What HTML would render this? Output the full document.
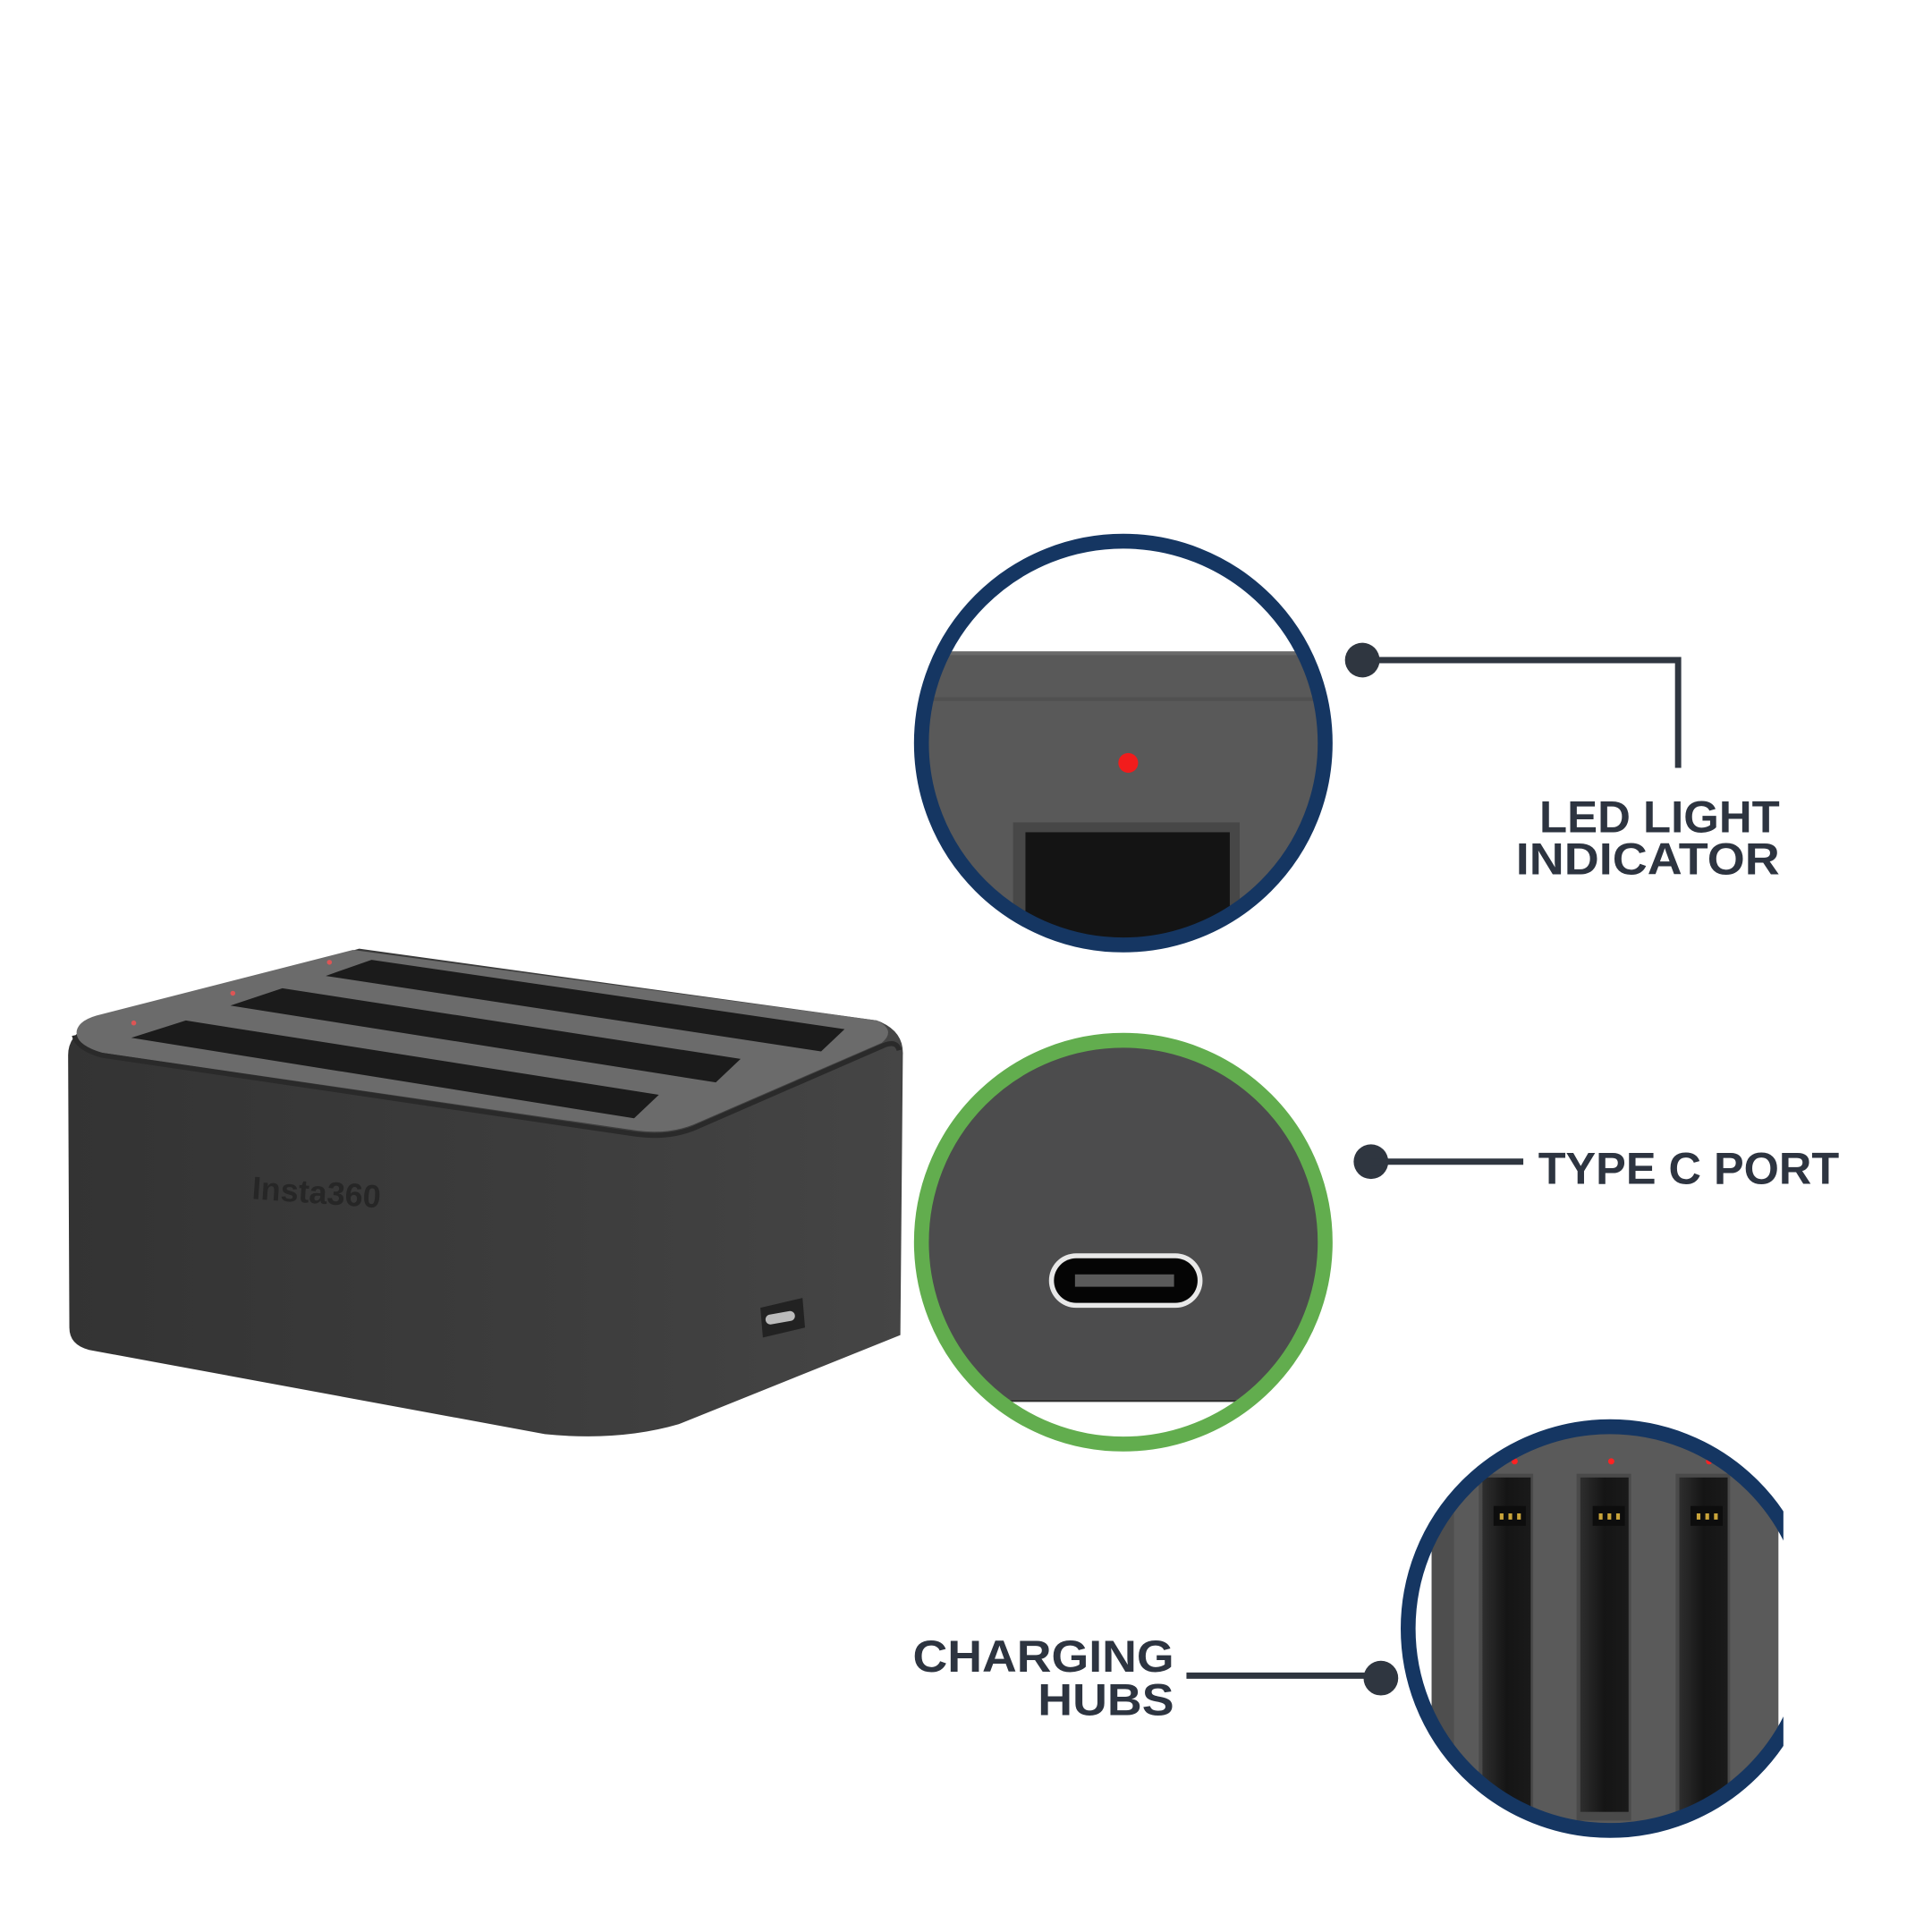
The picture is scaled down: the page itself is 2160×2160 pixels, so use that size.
<!DOCTYPE html>
<html><head><meta charset="utf-8"><style>
html,body{margin:0;padding:0;background:#fff;}
svg{display:block;}
text{font-family:"Liberation Sans",sans-serif;font-weight:bold;fill:#2d3440;}
</style></head><body>
<svg width="2160" height="2160" viewBox="0 0 1560 1560" xmlns="http://www.w3.org/2000/svg">
<defs>
<clipPath id="c1"><circle cx="907" cy="600" r="160"/></clipPath>
<clipPath id="c2"><circle cx="907" cy="1003" r="160"/></clipPath>
<clipPath id="c3"><circle cx="1300" cy="1315" r="160"/></clipPath>
<clipPath id="cr"><rect x="0" y="0" width="1440" height="1560"/></clipPath>
<linearGradient id="bodyg" x1="0" x2="1" y1="0" y2="0">
<stop offset="0" stop-color="#333"/><stop offset="0.6" stop-color="#3d3d3d"/><stop offset="1" stop-color="#454545"/></linearGradient>
<linearGradient id="slotg" x1="0" x2="1"><stop offset="0" stop-color="#2e2e2e"/><stop offset="0.5" stop-color="#151515"/><stop offset="1" stop-color="#1a1a1a"/></linearGradient>
</defs>

<!-- Charger -->
<path d="M55,852 Q55,836 72,828 L290,766 L708,824 Q730,832 729,852 L727,1078 L548,1150 Q500,1164 440,1158 L72,1090 Q56,1086 56,1072 Z" fill="url(#bodyg)"/>
<path d="M62,832 Q64,824 78,820 L285,767 L708,824 Q724,832 712,842 L560,908 Q540,916 515,913 L82,850 Q60,844 62,832 Z" fill="#6b6b6b"/>
<path d="M60,836 Q62,846 82,852 L515,916 Q540,919 560,911 L714,844 Q724,840 726,848" fill="none" stroke="#2a2a2a" stroke-width="4"/>
<polygon points="106,838 150,824 532,884 512,903" fill="#1b1b1b"/>
<polygon points="186,812 228,798 598,855 578,874" fill="#1b1b1b"/>
<polygon points="263,788 300,775 682,831 663,849" fill="#1b1b1b"/>
<circle cx="108" cy="826" r="2" fill="#d55"/>
<circle cx="188" cy="802" r="2" fill="#d55"/>
<circle cx="266" cy="777" r="2" fill="#d55"/>
<text x="203" y="968" font-size="26" fill="#262626" style="fill:#262626" transform="rotate(4 203 968)">Insta360</text>
<path d="M614,1056 L648,1048 L650,1072 L616,1080 Z" fill="#222"/>
<rect x="618" y="1060" width="24" height="8" rx="4" fill="#bbb" transform="rotate(-10 630 1064)"/>

<!-- Circle 1 -->
<g clip-path="url(#c1)">
<rect x="700" y="526" width="420" height="300" fill="#595959"/>
<rect x="700" y="526" width="420" height="3" fill="#6a6a6a"/>
<rect x="700" y="563" width="420" height="3" fill="#505050"/>
<circle cx="911" cy="616" r="8" fill="#f21c1c"/>
<rect x="818" y="664" width="183" height="120" fill="#474747"/>
<rect x="828" y="672" width="165" height="110" fill="#141414"/>
</g>
<circle cx="907" cy="600" r="163" fill="none" stroke="#153662" stroke-width="12"/>
<circle cx="1100" cy="533" r="14" fill="#2f3640"/>
<polyline points="1100,533 1355,533 1355,620" fill="none" stroke="#2f3640" stroke-width="5"/>
<text x="1243" y="672" font-size="36" textLength="194" lengthAdjust="spacingAndGlyphs">LED LIGHT</text>
<text x="1224" y="706" font-size="36" textLength="213" lengthAdjust="spacingAndGlyphs">INDICATOR</text>

<!-- Circle 2 -->
<g clip-path="url(#c2)">
<rect x="700" y="820" width="420" height="310" fill="#4c4c4d"/>
<rect x="700" y="1130" width="420" height="2" fill="#333"/>
<rect x="847" y="1012" width="124" height="44" rx="22" fill="#e8e8e8"/>
<rect x="851" y="1016" width="116" height="36" rx="18" fill="#050505"/>
<rect x="868" y="1029" width="80" height="10" fill="#5a5a5a"/>
</g>
<circle cx="907" cy="1003" r="163" fill="none" stroke="#62ad4e" stroke-width="12"/>
<circle cx="1107" cy="938" r="14" fill="#2f3640"/>
<line x1="1107" y1="938" x2="1230" y2="938" stroke="#2f3640" stroke-width="5"/>
<text x="1242" y="956" font-size="36" textLength="243" lengthAdjust="spacingAndGlyphs">TYPE C PORT</text>

<!-- Circle 3 -->
<g clip-path="url(#cr)">
<g clip-path="url(#c3)">
<rect x="1156" y="1154" width="280" height="340" fill="#5a5a5a"/>
<rect x="1156" y="1154" width="18" height="340" fill="#4e4e4e"/>
<rect x="1194" y="1190" width="44" height="280" fill="#4a4a4a"/>
<rect x="1197" y="1193" width="39" height="275" fill="url(#slotg)"/>
<rect x="1273" y="1190" width="44" height="280" fill="#4a4a4a"/>
<rect x="1276" y="1193" width="39" height="270" fill="url(#slotg)"/>
<rect x="1353" y="1190" width="44" height="280" fill="#4a4a4a"/>
<rect x="1356" y="1193" width="39" height="275" fill="url(#slotg)"/>
<rect x="1206" y="1216" width="26" height="16" fill="#0d0d0d"/>
<rect x="1286" y="1216" width="26" height="16" fill="#0d0d0d"/>
<rect x="1365" y="1216" width="26" height="16" fill="#0d0d0d"/>
<g fill="#c9a43a">
<rect x="1211" y="1222" width="3" height="5"/><rect x="1218" y="1222" width="3" height="5"/><rect x="1225" y="1222" width="3" height="5"/>
<rect x="1291" y="1222" width="3" height="5"/><rect x="1298" y="1222" width="3" height="5"/><rect x="1305" y="1222" width="3" height="5"/>
<rect x="1370" y="1222" width="3" height="5"/><rect x="1377" y="1222" width="3" height="5"/><rect x="1384" y="1222" width="3" height="5"/>
</g>
<circle cx="1223" cy="1180" r="2.5" fill="#f22"/>
<circle cx="1301" cy="1180" r="2.5" fill="#f22"/>
<circle cx="1380" cy="1180" r="2.5" fill="#f22"/>
</g>
<circle cx="1300" cy="1315" r="163" fill="none" stroke="#153662" stroke-width="12"/>
</g>
<text x="737" y="1350" font-size="36" textLength="211" lengthAdjust="spacingAndGlyphs">CHARGING</text>
<text x="838" y="1385" font-size="36" textLength="110" lengthAdjust="spacingAndGlyphs">HUBS</text>
<line x1="958" y1="1353" x2="1115" y2="1353" stroke="#2f3640" stroke-width="5"/>
<circle cx="1115" cy="1355" r="14" fill="#2f3640"/>
</svg>
</body></html>
